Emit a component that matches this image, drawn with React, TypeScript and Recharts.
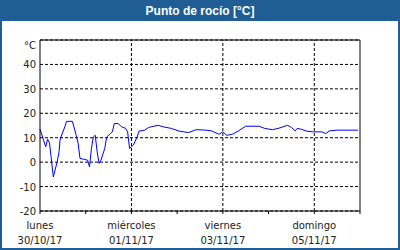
import React from "react";
import {
  LineChart,
  Line,
  XAxis,
  YAxis,
  CartesianGrid,
  ReferenceLine,
} from "recharts";

// hours since lunes 30/10/17 00:00
const HOURS = [
  0, 3, 4, 5, 7, 9, 10, 10.5, 11, 13, 14, 17, 19, 20, 21, 23, 25, 26, 27, 28,
  29, 30, 31, 32, 34, 35, 37, 38, 39, 41, 43, 45, 46, 47, 48, 49, 51, 52, 55,
  57, 62, 65, 69, 73, 78, 82, 87, 90, 94, 96, 98, 101, 104, 108, 115, 118, 122,
  125, 130, 132, 134, 135, 137, 140, 143, 148, 150, 152, 156, 159, 167,
];
const DEW_POINT = [
  13.5, 6.3, 9.4, 7.8, -6, 0.1, 4.2, 9, 10.3, 14.4, 16.7, 16.7, 11, 7.8, 1.5,
  1.2, 0.8, -1.9, 5.6, 10.3, 11, 4.2, -0.5, 0.8, 5.6, 10.3, 11.7, 12.4, 15.8,
  15.8, 14.4, 13.8, 12.4, 5.6, 6.3, 7, 10.3, 12.7, 13.1, 14.2, 15.1, 14.4, 13.8,
  12.7, 12.1, 13.3, 13.1, 12.8, 11.4, 12.4, 11, 11.4, 12.7, 14.7, 14.7, 13.8,
  13.3, 13.8, 15.1, 14.2, 12.8, 13.8, 13.5, 12.7, 12.4, 12.4, 11.7, 12.8, 13.1,
  13.1, 13.1,
];

const DAY_TICKS = [0, 24, 48, 72, 96, 120, 144, 168];
const DAY_NAMES = ["lunes", "", "miércoles", "", "viernes", "", "domingo", ""];
const DAY_DATES = ["30/10/17", "", "01/11/17", "", "03/11/17", "", "05/11/17", ""];
const V_GRID = [48, 96, 144];
const Y_TICKS = [-20, -10, 0, 10, 20, 30, 40, 50];

const data = HOURS.map((h, i) => ({ h, v: DEW_POINT[i] }));

const FONT = "DejaVu Sans";
const BLUE = "#1f5d94";

const XTick = (props: any) => {
  const { x, y, index } = props;
  return (
    <g>
      <text x={x} y={y + 15} textAnchor="middle" fontFamily={FONT} fontSize={10} fill="#222">
        {DAY_NAMES[index]}
      </text>
      <text x={x} y={y + 30} textAnchor="middle" fontFamily={FONT} fontSize={10} fill="#222">
        {DAY_DATES[index]}
      </text>
    </g>
  );
};

const YTick = (props: any) => {
  const { x, y, payload } = props;
  const top = payload.value === 50;
  return (
    <text
      x={x}
      y={y + (top ? 9 : 4)}
      textAnchor="end"
      fontFamily={FONT}
      fontSize={10}
      fill="#222"
    >
      {top ? "°C" : payload.value}
    </text>
  );
};

export default function App() {
  return (
    <div
      style={{
        position: "absolute",
        left: 0,
        top: 0,
        width: 400,
        height: 250,
        boxSizing: "border-box",
        border: `2px solid ${BLUE}`,
        background: "#fff",
      }}
    >
      <div
        style={{
          height: 19,
          lineHeight: "19px",
          background: BLUE,
          color: "#fff",
          textAlign: "center",
          fontFamily: "Liberation Sans",
          fontWeight: "bold",
          fontSize: 12,
        }}
      >
        Punto de rocío [°C]
      </div>
      <LineChart
        width={396}
        height={227}
        data={data}
        margin={{ top: 19, right: 38, left: 0, bottom: 0 }}
      >
        <CartesianGrid vertical={false} stroke="#000" strokeDasharray="3 2" />
        {V_GRID.map((d) => (
          <ReferenceLine key={d} x={d} stroke="#000" strokeDasharray="3 2" />
        ))}
        <ReferenceLine y={50} stroke="#000" />
        <ReferenceLine x={168} stroke="#000" />
        <XAxis
          dataKey="h"
          type="number"
          domain={[0, 168]}
          ticks={DAY_TICKS}
          interval={0}
          height={37}
          tickSize={3}
          tickMargin={0}
          stroke="#000"
          tick={<XTick />}
        />
        <YAxis
          type="number"
          domain={[-20, 50]}
          ticks={Y_TICKS}
          interval={0}
          width={38}
          tickLine={false}
          tickSize={0}
          tickMargin={4}
          stroke="#000"
          tick={<YTick />}
        />
        <Line
          type="linear"
          dataKey="v"
          stroke="#0000ff"
          strokeWidth={1}
          dot={false}
          isAnimationActive={false}
        />
      </LineChart>
    </div>
  );
}
